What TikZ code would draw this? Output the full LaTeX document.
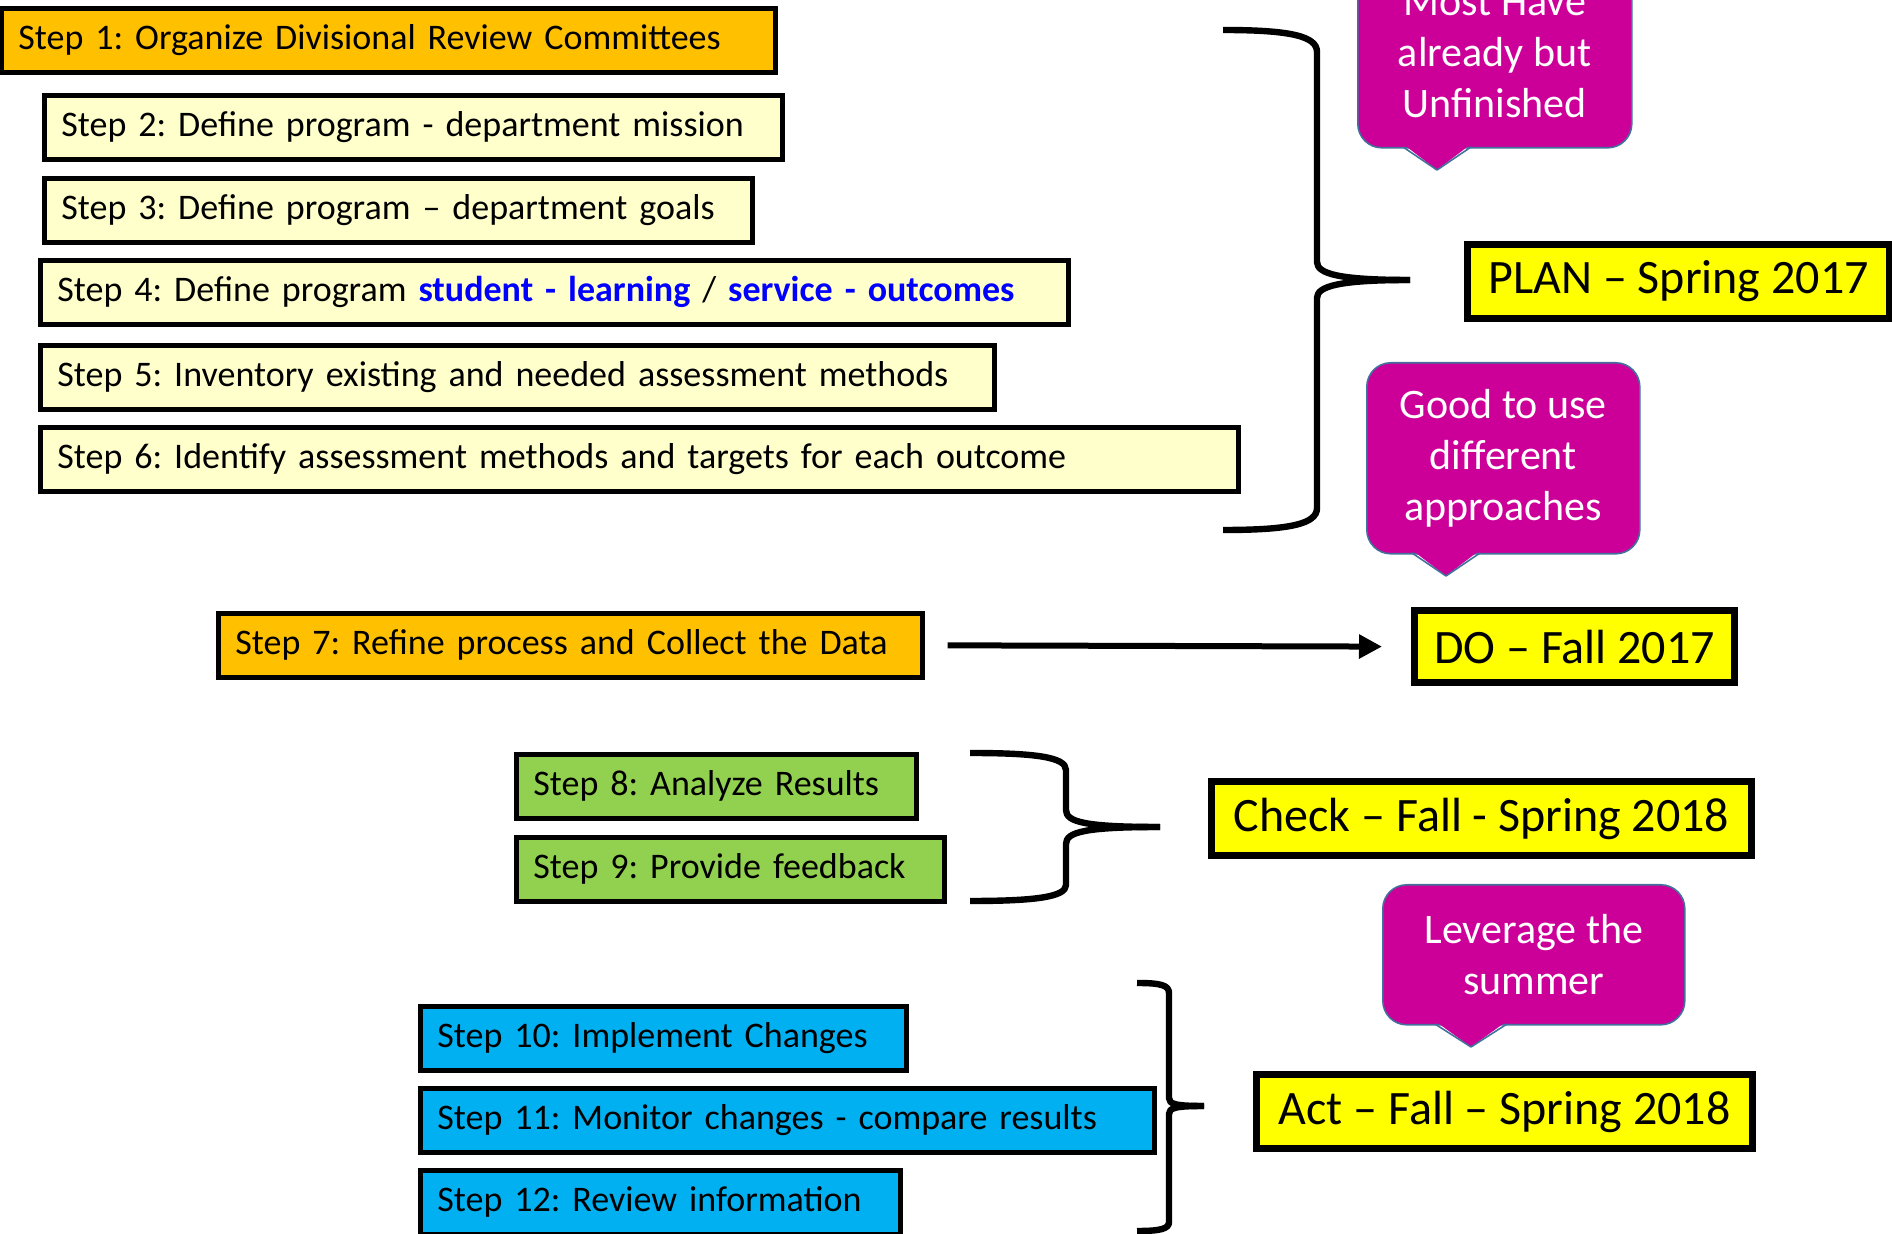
\documentclass[tikz,border=0pt]{standalone}
\usepackage{fontspec}
\setmainfont{Carlito}
\usetikzlibrary{arrows.meta}

\definecolor{step orange}{HTML}{FFC000}
\definecolor{step cream}{HTML}{FFFFCC}
\definecolor{step green}{HTML}{92D050}
\definecolor{step cyan}{HTML}{00B0F0}
\definecolor{phase yellow}{HTML}{FFFF00}
\definecolor{note fill}{HTML}{CC0099}
\definecolor{note edge}{HTML}{41719C}
\colorlet{outcome blue}{blue}
\tikzset{stepbox/.style={draw=black, line width=2.35pt, anchor=north west,
        minimum height=32pt, inner xsep=8.5pt, inner ysep=0pt, align=left,
        font=\fontsize{18}{22}\selectfont\frenchspacing},
    phase/.style={draw=black, line width=3.6pt, fill=phase yellow, anchor=north west,
        inner sep=0pt, font=\fontsize{24}{28}\selectfont},
    note/.style={fill=note fill, draw=note edge, line width=0.8pt, rounded corners=12pt,
        text=white, align=center, anchor=north west, inner sep=0pt,
        font=\fontsize{21}{25.5}\selectfont},
    brace/.style={line width=3.2pt, line join=round},
    link/.style={line width=3pt, -{Triangle[length=11.5pt,width=11.5pt]}}}

% pointer of a note: base left x, tip x, bottom y
\newcommand{\notepointer}[3]{%
    \fill[note fill] (#1,#3-3) -- (#2,#3+23) -- (2*#2-#1,#3-3) -- cycle;
    \draw[note edge, line width=0.8pt, line join=round] (#1,#3) -- (#2,#3+23) -- (2*#2-#1,#3);}

\begin{document}
\begin{tikzpicture}[x=0.5pt, y=-0.5pt]
    \useasboundingbox (0,0) rectangle (1892,1234);
    \clip (0,0) rectangle (1892,1234);

    % steps
    \node[stepbox, fill=step orange, text width=370pt] (s1) at (-1,6) {\mbox{Step 1: Organize Divisional Review Committees}};
    \node[stepbox, fill=step cream, text width=352pt] (s2) at (42,93) {\mbox{Step 2: Define program - department mission}};
    \node[stepbox, fill=step cream, text width=337pt] (s3) at (42,176) {\mbox{Step 3: Define program -- department goals}};
    \node[stepbox, fill=step cream, text width=497pt] (s4) at (38,258)
        {\mbox{Step 4: Define program \textcolor{outcome blue}{\bfseries student - learning} / \textcolor{outcome blue}{\bfseries service - outcomes}}};
    \node[stepbox, fill=step cream, text width=460pt] (s5) at (38,343) {\mbox{Step 5: Inventory existing and needed assessment methods}};
    \node[stepbox, fill=step cream, text width=582pt] (s6) at (38,425) {\mbox{Step 6: Identify assessment methods and targets for each outcome}};
    \node[stepbox, fill=step orange, text width=335pt] (s7) at (216,611) {\mbox{Step 7: Refine process and Collect the Data}};
    \node[stepbox, fill=step green, text width=183pt] (s8) at (514,752) {\mbox{Step 8: Analyze Results}};
    \node[stepbox, fill=step green, text width=197pt] (s9) at (514,835) {\mbox{Step 9: Provide feedback}};
    \node[stepbox, fill=step cyan, text width=226pt] (s10) at (418,1004) {\mbox{Step 10: Implement Changes}};
    \node[stepbox, fill=step cyan, text width=350pt] (s11) at (418,1086) {\mbox{Step 11: Monitor changes - compare results}};
    \node[stepbox, fill=step cyan, text width=223pt] (s12) at (418,1168) {\mbox{Step 12: Review information}};

    % phases
    \node[phase, minimum width=211pt, minimum height=37pt] (plan) at (1464,241) {PLAN -- Spring 2017};
    \node[phase, minimum width=160pt, minimum height=36pt] (do) at (1411,607) {DO -- Fall 2017};
    \node[phase, minimum width=270pt, minimum height=37pt] (check) at (1208,778) {Check -- Fall - Spring 2018};
    \node[phase, minimum width=248pt, minimum height=37pt] (act) at (1253,1071) {Act -- Fall -- Spring 2018};

    % notes
    \node[note, minimum width=137pt, minimum height=94.5pt] (most) at (1357,-42) {Most Have\\already but\\Unfinished};
    \notepointer{1403}{1437}{147}
    \node[note, minimum width=136.5pt, minimum height=95.5pt] (good) at (1366,362) {Good to use\\different\\approaches};
    \notepointer{1412}{1446}{553}
    \node[note, minimum width=151pt, minimum height=70pt] (summer) at (1382,884) {Leverage the\\summer};
    \notepointer{1435}{1471}{1024}

    % braces
    \draw[brace] (1223,30) .. controls (1290,30) and (1317,36) .. (1317,52) -- (1317,262)
        .. controls (1317,274) and (1340,280) .. (1410,280);
    \draw[brace] (1410,280) .. controls (1340,280) and (1317,286) .. (1317,298) -- (1317,508)
        .. controls (1317,524) and (1290,530) .. (1223,530);
    \draw[brace] (970,753) .. controls (1035,753) and (1066,757) .. (1066,770) -- (1066,810)
        .. controls (1066,822) and (1085,827) .. (1160,827);
    \draw[brace] (1160,827) .. controls (1085,827) and (1066,832) .. (1066,844) -- (1066,885)
        .. controls (1066,897) and (1035,901) .. (970,901);
    \draw[brace] (1137,983) .. controls (1160,983) and (1169,985) .. (1169,993) -- (1169,1098)
        .. controls (1169,1104) and (1175,1106) .. (1204,1106);
    \draw[brace] (1204,1106) .. controls (1175,1106) and (1169,1108) .. (1169,1114) -- (1169,1222)
        .. controls (1169,1229) and (1160,1231) .. (1137,1231);

    \draw[link] ([xshift=11.5pt]s7.east) -- ([xshift=-14.5pt]do.west);
\end{tikzpicture}
\end{document}
